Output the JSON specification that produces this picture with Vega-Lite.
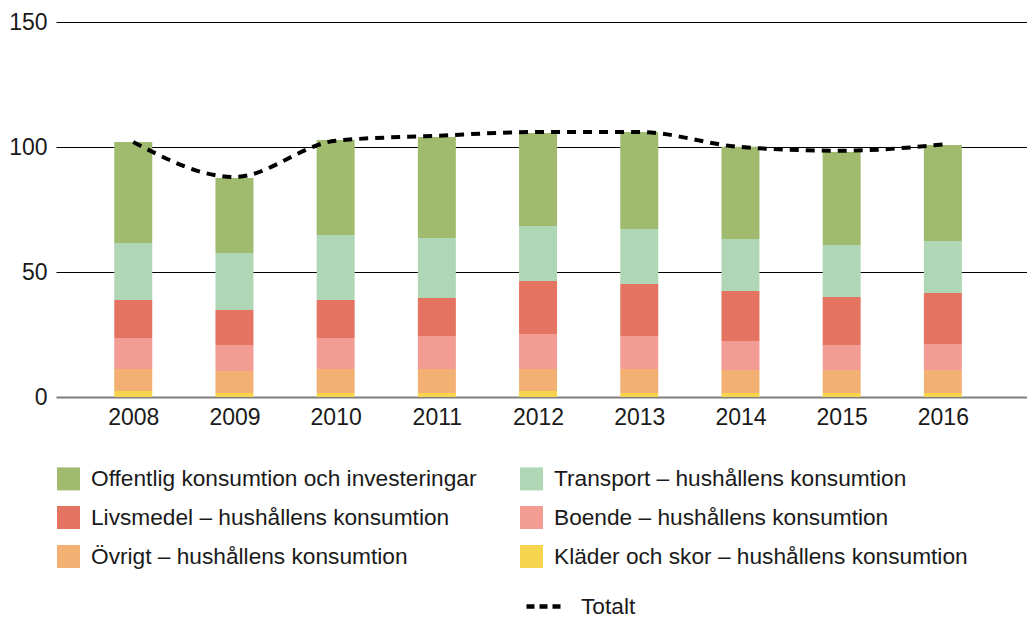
{
  "$schema": "https://vega.github.io/schema/vega-lite/v6.json",
  "autosize": {"type": "none"},
  "width": 971,
  "height": 375,
  "padding": {"left": 56, "top": 22, "right": 0, "bottom": 221},
  "background": "white",
  "config": {
    "font": "Liberation Sans",
    "view": {"stroke": null}
  },
  "datasets": {
    "delar": [
      {"ar": 2008, "kategori": "Kläder och skor – hushållens konsumtion", "ordning": 1, "varde": 2.4},
      {"ar": 2008, "kategori": "Övrigt – hushållens konsumtion", "ordning": 2, "varde": 8.8},
      {"ar": 2008, "kategori": "Boende – hushållens konsumtion", "ordning": 3, "varde": 12.4},
      {"ar": 2008, "kategori": "Livsmedel – hushållens konsumtion", "ordning": 4, "varde": 15.2},
      {"ar": 2008, "kategori": "Transport – hushållens konsumtion", "ordning": 5, "varde": 22.8},
      {"ar": 2008, "kategori": "Offentlig konsumtion och investeringar", "ordning": 6, "varde": 40.4},
      {"ar": 2009, "kategori": "Kläder och skor – hushållens konsumtion", "ordning": 1, "varde": 1.6},
      {"ar": 2009, "kategori": "Övrigt – hushållens konsumtion", "ordning": 2, "varde": 8.8},
      {"ar": 2009, "kategori": "Boende – hushållens konsumtion", "ordning": 3, "varde": 10.4},
      {"ar": 2009, "kategori": "Livsmedel – hushållens konsumtion", "ordning": 4, "varde": 14.0},
      {"ar": 2009, "kategori": "Transport – hushållens konsumtion", "ordning": 5, "varde": 22.8},
      {"ar": 2009, "kategori": "Offentlig konsumtion och investeringar", "ordning": 6, "varde": 30.0},
      {"ar": 2010, "kategori": "Kläder och skor – hushållens konsumtion", "ordning": 1, "varde": 1.6},
      {"ar": 2010, "kategori": "Övrigt – hushållens konsumtion", "ordning": 2, "varde": 9.6},
      {"ar": 2010, "kategori": "Boende – hushållens konsumtion", "ordning": 3, "varde": 12.4},
      {"ar": 2010, "kategori": "Livsmedel – hushållens konsumtion", "ordning": 4, "varde": 15.2},
      {"ar": 2010, "kategori": "Transport – hushållens konsumtion", "ordning": 5, "varde": 26.0},
      {"ar": 2010, "kategori": "Offentlig konsumtion och investeringar", "ordning": 6, "varde": 38.0},
      {"ar": 2011, "kategori": "Kläder och skor – hushållens konsumtion", "ordning": 1, "varde": 1.6},
      {"ar": 2011, "kategori": "Övrigt – hushållens konsumtion", "ordning": 2, "varde": 9.6},
      {"ar": 2011, "kategori": "Boende – hushållens konsumtion", "ordning": 3, "varde": 13.2},
      {"ar": 2011, "kategori": "Livsmedel – hushållens konsumtion", "ordning": 4, "varde": 15.2},
      {"ar": 2011, "kategori": "Transport – hushållens konsumtion", "ordning": 5, "varde": 24.0},
      {"ar": 2011, "kategori": "Offentlig konsumtion och investeringar", "ordning": 6, "varde": 40.4},
      {"ar": 2012, "kategori": "Kläder och skor – hushållens konsumtion", "ordning": 1, "varde": 2.4},
      {"ar": 2012, "kategori": "Övrigt – hushållens konsumtion", "ordning": 2, "varde": 8.8},
      {"ar": 2012, "kategori": "Boende – hushållens konsumtion", "ordning": 3, "varde": 14.0},
      {"ar": 2012, "kategori": "Livsmedel – hushållens konsumtion", "ordning": 4, "varde": 21.2},
      {"ar": 2012, "kategori": "Transport – hushållens konsumtion", "ordning": 5, "varde": 22.0},
      {"ar": 2012, "kategori": "Offentlig konsumtion och investeringar", "ordning": 6, "varde": 37.2},
      {"ar": 2013, "kategori": "Kläder och skor – hushållens konsumtion", "ordning": 1, "varde": 1.6},
      {"ar": 2013, "kategori": "Övrigt – hushållens konsumtion", "ordning": 2, "varde": 9.6},
      {"ar": 2013, "kategori": "Boende – hushållens konsumtion", "ordning": 3, "varde": 13.2},
      {"ar": 2013, "kategori": "Livsmedel – hushållens konsumtion", "ordning": 4, "varde": 20.8},
      {"ar": 2013, "kategori": "Transport – hushållens konsumtion", "ordning": 5, "varde": 22.0},
      {"ar": 2013, "kategori": "Offentlig konsumtion och investeringar", "ordning": 6, "varde": 38.8},
      {"ar": 2014, "kategori": "Kläder och skor – hushållens konsumtion", "ordning": 1, "varde": 1.6},
      {"ar": 2014, "kategori": "Övrigt – hushållens konsumtion", "ordning": 2, "varde": 9.2},
      {"ar": 2014, "kategori": "Boende – hushållens konsumtion", "ordning": 3, "varde": 11.6},
      {"ar": 2014, "kategori": "Livsmedel – hushållens konsumtion", "ordning": 4, "varde": 20.0},
      {"ar": 2014, "kategori": "Transport – hushållens konsumtion", "ordning": 5, "varde": 20.8},
      {"ar": 2014, "kategori": "Offentlig konsumtion och investeringar", "ordning": 6, "varde": 36.9},
      {"ar": 2015, "kategori": "Kläder och skor – hushållens konsumtion", "ordning": 1, "varde": 1.6},
      {"ar": 2015, "kategori": "Övrigt – hushållens konsumtion", "ordning": 2, "varde": 9.2},
      {"ar": 2015, "kategori": "Boende – hushållens konsumtion", "ordning": 3, "varde": 10.0},
      {"ar": 2015, "kategori": "Livsmedel – hushållens konsumtion", "ordning": 4, "varde": 19.2},
      {"ar": 2015, "kategori": "Transport – hushållens konsumtion", "ordning": 5, "varde": 20.8},
      {"ar": 2015, "kategori": "Offentlig konsumtion och investeringar", "ordning": 6, "varde": 37.2},
      {"ar": 2016, "kategori": "Kläder och skor – hushållens konsumtion", "ordning": 1, "varde": 1.6},
      {"ar": 2016, "kategori": "Övrigt – hushållens konsumtion", "ordning": 2, "varde": 9.2},
      {"ar": 2016, "kategori": "Boende – hushållens konsumtion", "ordning": 3, "varde": 10.4},
      {"ar": 2016, "kategori": "Livsmedel – hushållens konsumtion", "ordning": 4, "varde": 20.4},
      {"ar": 2016, "kategori": "Transport – hushållens konsumtion", "ordning": 5, "varde": 20.8},
      {"ar": 2016, "kategori": "Offentlig konsumtion och investeringar", "ordning": 6, "varde": 38.4}
    ],
    "totalt": [
      {"ar": 2008, "serie": "Totalt", "varde": 102.0},
      {"ar": 2009, "serie": "Totalt", "varde": 88.0},
      {"ar": 2010, "serie": "Totalt", "varde": 102.5},
      {"ar": 2011, "serie": "Totalt", "varde": 104.5},
      {"ar": 2012, "serie": "Totalt", "varde": 106.0},
      {"ar": 2013, "serie": "Totalt", "varde": 106.0},
      {"ar": 2014, "serie": "Totalt", "varde": 100.0},
      {"ar": 2015, "serie": "Totalt", "varde": 98.5},
      {"ar": 2016, "serie": "Totalt", "varde": 101.0}
    ]
  },
  "layer": [
    {
      "data": {"name": "delar"},
      "mark": {"type": "bar", "size": 38},
      "encoding": {
        "x": {
          "field": "ar",
          "type": "quantitative",
          "scale": {"domain": [2007.286, 2016.782], "nice": false, "zero": false},
          "axis": {
            "title": null,
            "values": [2008, 2009, 2010, 2011, 2012, 2013, 2014, 2015, 2016],
            "format": "d",
            "labelFontSize": 23,
            "labelColor": "#1a1a1a",
            "labelPadding": 9,
            "ticks": false,
            "domain": false,
            "grid": false
          }
        },
        "y": {
          "field": "varde",
          "type": "quantitative",
          "stack": "zero",
          "scale": {"domain": [0, 150], "nice": false},
          "axis": {
            "title": null,
            "values": [0, 50, 100, 150],
            "labelFontSize": 23,
            "labelColor": "#1a1a1a",
            "labelPadding": 9,
            "ticks": false,
            "domain": false,
            "grid": true,
            "gridColor": {"condition": {"test": "datum.value === 0", "value": "#7f7f7f"}, "value": "#000000"},
            "gridWidth": {"condition": {"test": "datum.value === 0", "value": 2}, "value": 1}
          }
        },
        "color": {
          "field": "kategori",
          "type": "nominal",
          "scale": {
            "domain": [
              "Offentlig konsumtion och investeringar",
              "Livsmedel – hushållens konsumtion",
              "Övrigt – hushållens konsumtion",
              "Transport – hushållens konsumtion",
              "Boende – hushållens konsumtion",
              "Kläder och skor – hushållens konsumtion"
            ],
            "range": ["#a0ba6e", "#e57361", "#f2b072", "#b0d7b5", "#f29c94", "#f7d44e"]
          },
          "legend": {
            "title": null,
            "orient": "none",
            "legendX": 1,
            "legendY": 445,
            "columns": 2,
            "columnPadding": 43,
            "rowPadding": 15,
            "padding": 0,
            "symbolType": "square",
            "symbolSize": 529,
            "symbolStrokeWidth": 0,
            "symbolOpacity": 1,
            "labelFontSize": 22.7,
            "labelColor": "#1a1a1a",
            "labelOffset": 11,
            "labelLimit": 700
          }
        },
        "order": {"field": "ordning", "type": "quantitative", "sort": "ascending"}
      }
    },
    {
      "data": {"name": "totalt"},
      "mark": {"type": "line", "interpolate": "monotone", "strokeWidth": 4, "strokeDash": [9, 7]},
      "encoding": {
        "x": {"field": "ar", "type": "quantitative"},
        "y": {"field": "varde", "type": "quantitative"},
        "stroke": {
          "field": "serie",
          "type": "nominal",
          "scale": {"domain": ["Totalt"], "range": ["#000000"]},
          "legend": {
            "title": null,
            "orient": "none",
            "legendX": 468,
            "legendY": 563,
            "padding": 0,
            "symbolType": "stroke",
            "symbolSize": 1444,
            "symbolStrokeWidth": 4.5,
            "symbolDash": [8, 5],
            "labelFontSize": 22.7,
            "labelColor": "#1a1a1a",
            "labelOffset": 14,
            "labelLimit": 300
          }
        }
      }
    }
  ]
}
